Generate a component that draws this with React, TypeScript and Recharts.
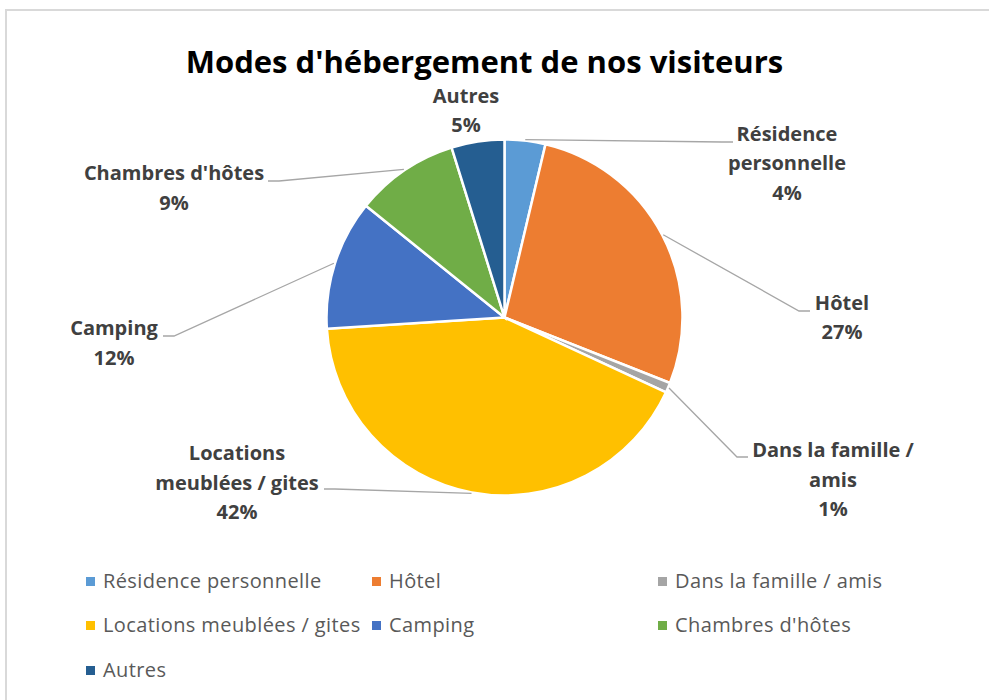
import React from 'react';
import { PieChart, Pie, Cell, Legend } from 'recharts';

const TITLE = "Modes d'hébergement de nos visiteurs";
const NAMES = [
  'Résidence personnelle',
  'Hôtel',
  'Dans la famille / amis',
  'Locations meublées / gites',
  'Camping',
  "Chambres d'hôtes",
  'Autres',
];
const SHARES = [3.7, 27.3, 0.9, 42.1, 11.8, 9.4, 4.8];
const LABEL_LINES = [
  ['Résidence', 'personnelle'],
  ['Hôtel'],
  ['Dans la famille /', 'amis'],
  ['Locations', 'meublées / gites'],
  ['Camping'],
  ["Chambres d'hôtes"],
  ['Autres'],
];
const COLORS = ['#5B9BD5', '#ED7D31', '#A5A5A5', '#FFC000', '#4472C4', '#70AD47', '#255E91'];

const data = NAMES.map((name, i) => ({ name, value: SHARES[i] }));

// label layout (relative to pie centre): label centre (lx, ly), leader end (ex, ey)
const LABEL_LAYOUT = [
  { lx: 282.5, ly: -154.5, ex: 228.5, ey: -175.5, line: true },
  { lx: 337.5, ly: 0, ex: 305.5, ey: -6.5, line: true },
  { lx: 328.5, ly: 162, ex: 243.5, ey: 139.5, line: true },
  { lx: -267.5, ly: 165, ex: -180.5, ey: 171.5, line: true },
  { lx: -390.5, ly: 25.5, ex: -341.5, ey: 18.5, line: true },
  { lx: -330.5, ly: -129.5, ex: -236.5, ey: -136.5, line: true },
  { lx: -38.5, ly: -207, ex: 0, ey: 0, line: false },
];

const LINE_H = 29.5;
const FONT = "'Open Sans', 'Noto Sans', sans-serif";

const renderLabel = (props: any) => {
  const { cx, cy, midAngle, outerRadius, percent, index } = props;
  const RAD = Math.PI / 180;
  const lay = LABEL_LAYOUT[index];
  const lines = [...LABEL_LINES[index], `${Math.round(percent * 100)}%`];
  const sx = cx + (outerRadius + 1) * Math.cos(-midAngle * RAD);
  const sy = cy + (outerRadius + 1) * Math.sin(-midAngle * RAD);
  const ex = cx + lay.ex;
  const ey = cy + lay.ey;
  const dir = lay.ex >= 0 ? 1 : -1;
  const mx = ex - dir * 11;
  const lcx = cx + lay.lx;
  const firstY = cy + lay.ly - ((lines.length - 1) / 2) * LINE_H + 7;
  return (
    <g key={`lbl-${index}`}>
      {lay.line && (
        <path
          d={`M${sx},${sy}L${mx},${ey}L${ex},${ey}`}
          stroke="#A6A6A6"
          strokeWidth={1.3}
          fill="none"
        />
      )}
      <text
        x={lcx}
        y={firstY}
        textAnchor="middle"
        fontFamily={FONT}
        fontWeight={700}
        fontSize={20}
        fill="#404040"
      >
        {lines.map((t, i) => (
          <tspan key={i} x={lcx} y={firstY + i * LINE_H}>
            {t}
          </tspan>
        ))}
      </text>
    </g>
  );
};

const COL_X = [86, 372, 658];
const ROW_Y = [581, 625, 670];

const renderLegend = (props: any) => {
  const payload = [...(props.payload || [])].sort(
    (a: any, b: any) => NAMES.indexOf(a.value) - NAMES.indexOf(b.value)
  );
  return (
    <div style={{ position: 'relative', width: 989, height: 0 }}>
      {payload.map((entry: any) => {
        const i = NAMES.indexOf(entry.value);
        const x = COL_X[i % 3];
        const y = ROW_Y[Math.floor(i / 3)];
        return (
          <div
            key={entry.value}
            style={{
              position: 'absolute',
              left: x,
              top: y - 14,
              height: 28,
              display: 'flex',
              alignItems: 'center',
              whiteSpace: 'nowrap',
            }}
          >
            <span
              style={{
                display: 'inline-block',
                width: 9,
                height: 9,
                background: COLORS[i],
                marginRight: 8,
              }}
            />
            <span
              style={{
                fontFamily: FONT,
                fontSize: 20,
                letterSpacing: 0.4,
                color: '#595959',
                lineHeight: '28px',
              }}
            >
              {entry.value}
            </span>
          </div>
        );
      })}
    </div>
  );
};

export default function App() {
  return (
    <div
      style={{
        position: 'absolute',
        left: 0,
        top: 0,
        width: 989,
        height: 700,
        overflow: 'hidden',
        background: '#fff',
      }}
    >
      <div
        style={{
          position: 'absolute',
          left: 5,
          top: 9,
          width: 1100,
          height: 1100,
          border: '2px solid #D9D9D9',
          boxSizing: 'border-box',
        }}
      />
      <div
        style={{
          position: 'absolute',
          left: 0,
          top: 47,
          width: 969,
          textAlign: 'center',
          fontFamily: FONT,
          fontWeight: 700,
          fontSize: 31,
          lineHeight: '28px',
          color: '#000',
          whiteSpace: 'nowrap',
        }}
      >
        {TITLE}
      </div>
      <div style={{ position: 'absolute', left: 0, top: 0 }}>
        <PieChart width={989} height={700} margin={{ top: 0, right: 0, bottom: 0, left: 0 }}>
          <Pie
            data={data}
            dataKey="value"
            nameKey="name"
            cx={504.5}
            cy={317.5}
            outerRadius={178}
            startAngle={90}
            endAngle={-270}
            stroke="#FFFFFF"
            strokeWidth={2.5}
            label={renderLabel}
            labelLine={false}
            isAnimationActive={false}
          >
            {data.map((d, i) => (
              <Cell key={d.name} fill={COLORS[i]} />
            ))}
          </Pie>
          <Legend
            content={renderLegend}
            wrapperStyle={{ left: 0, top: 0, width: 989, height: 0 }}
          />
        </PieChart>
      </div>
    </div>
  );
}
